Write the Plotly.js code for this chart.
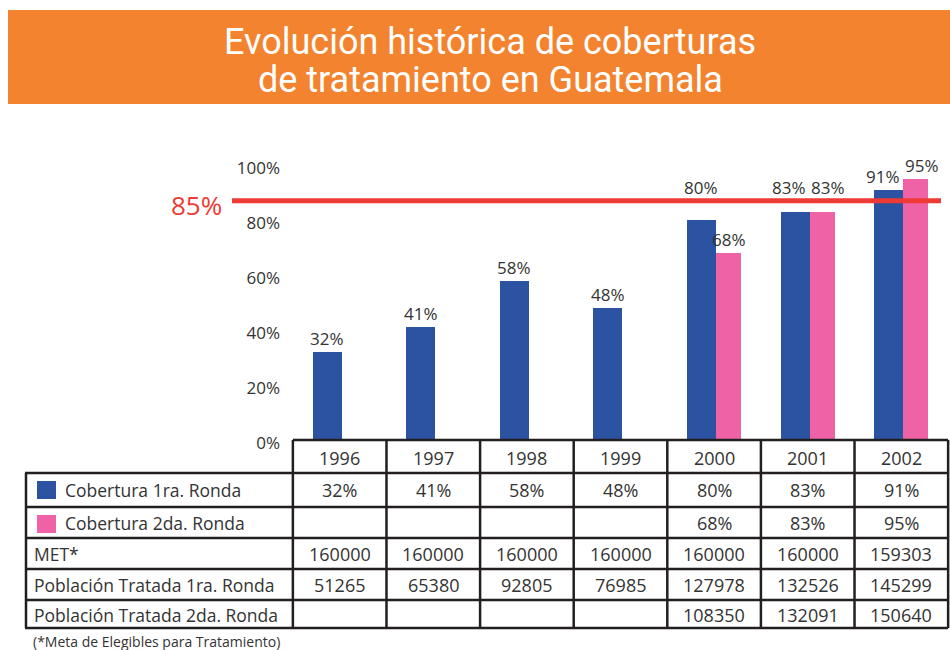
<!DOCTYPE html>
<html>
<head>
<meta charset="utf-8">
<script src="https://cdn.plot.ly/plotly-3.0.1.min.js"></script>
<style>html,body{margin:0;padding:0;background:#fff;}#chart{width:950px;height:650px;}</style>
</head>
<body>
<div id="chart"></div>
<script>
// ---- data ----
var years = ["1996", "1997", "1998", "1999", "2000", "2001", "2002"];
var cobertura1 = [0.32, 0.41, 0.58, 0.48, 0.80, 0.83, 0.91];
var cobertura2 = [null, null, null, null, 0.68, 0.83, 0.95];
var met = [160000, 160000, 160000, 160000, 160000, 160000, 159303];
var poblacion1 = [51265, 65380, 92805, 76985, 127978, 132526, 145299];
var poblacion2 = [null, null, null, null, 108350, 132091, 150640];
var metaLabel = "85%";
var metaLinePos = 0.87; // where the goal line is drawn in the picture
var rowLabels = ["Cobertura 1ra. Ronda", "Cobertura 2da. Ronda", "MET*", "Población Tratada 1ra. Ronda", "Población Tratada 2da. Ronda"];
var titleLines = ["Evolución histórica de coberturas", "de tratamiento en Guatemala"];
var footnote = "(*Meta de Elegibles para Tratamiento)";

// ---- styling / geometry ----
var W = 950, H = 650;
var mL = 291, mR = 0, mT = 165, mB = 210;
var plotH = H - mT - mB, plotW = W - mL - mR;
var blue = "#2C52A2", pink = "#EF62A6", red = "#EE3A35", orange = "#F3832E";
var txt = "#333333", lineCol = "#231F20";
var FONT = "Open Sans, Noto Sans, sans-serif";
function py(p) { return (H - mB - p) / plotH; }   // pixel y -> paper y
function px(p) { return (p - mL) / plotW; }       // pixel x -> paper x

var blueW = 0.31, blueOff = -0.29, pinkW = 0.27, pinkOff = 0.02;
var idx = years.map(function (_, i) { return i; });

var traces = [
  { type: "bar", x: idx, y: cobertura1, width: blueW, offset: blueOff,
    marker: { color: blue }, name: "Cobertura 1ra. Ronda", hoverinfo: "y", cliponaxis: false },
  { type: "bar", x: idx, y: cobertura2, width: pinkW, offset: pinkOff,
    marker: { color: pink }, name: "Cobertura 2da. Ronda", hoverinfo: "y", cliponaxis: false }
];

var shapes = [], annotations = [];

// banner
shapes.push({ type: "rect", xref: "paper", yref: "paper", x0: px(8), x1: px(952), y0: py(104), y1: py(10),
  fillcolor: orange, line: { width: 0 }, layer: "below" });
var titleY = [42, 80];
titleLines.forEach(function (t, i) {
  annotations.push({ xref: "paper", yref: "paper", x: px(490), y: py(titleY[i]), text: t, showarrow: false,
    xanchor: "center", yanchor: "middle", font: { family: "Roboto, sans-serif", size: 36, color: "#ffffff" } });
});

// goal line
shapes.push({ type: "line", xref: "paper", yref: "y", x0: px(232), x1: px(941), y0: metaLinePos, y1: metaLinePos,
  line: { color: red, width: 5 }, layer: "above" });
annotations.push({ xref: "paper", yref: "y", x: px(224), y: metaLinePos, yshift: -4, text: metaLabel, showarrow: false,
  xanchor: "right", yanchor: "middle", font: { family: FONT, size: 26, color: red } });

// bar value labels
function pct(v) { return Math.round(v * 100) + "%"; }
years.forEach(function (yr, i) {
  var b = cobertura1[i], p = cobertura2[i];
  var bY = (b > metaLinePos - 0.12 && b < metaLinePos) ? metaLinePos : b;
  var pY = (p != null && p > metaLinePos - 0.12 && p < metaLinePos) ? metaLinePos : p;
  var spread = (p != null && Math.abs(bY - pY) < 0.06) ? 6 : 0;
  annotations.push({ xref: "x", yref: "y", x: i + blueOff + blueW / 2, y: bY, text: pct(b), showarrow: false,
    yanchor: "bottom", yshift: 0, xshift: -spread, font: { family: FONT, size: 17, color: txt } });
  if (p != null) {
    annotations.push({ xref: "x", yref: "y", x: i + pinkOff + pinkW / 2, y: pY, text: pct(p), showarrow: false,
      yanchor: "bottom", yshift: 0, xshift: spread, font: { family: FONT, size: 17, color: txt } });
  }
});

// ---- table ----
var rowEdges = [440, 473, 507, 538, 569, 600, 628]; // header + 5 rows
var rowCenters = [458, 490, 523, 554, 585, 615];
var leftX = 26;
var lw = 2.5;
rowEdges.forEach(function (e) {
  shapes.push({ type: "line", xref: "x", yref: "paper", x0: -0.5, x1: years.length - 0.5, y0: py(e), y1: py(e),
    line: { color: lineCol, width: lw } });
});
rowEdges.slice(1).forEach(function (e) {
  shapes.push({ type: "line", xref: "paper", yref: "paper", x0: px(leftX - 1), x1: px(mL + 2), y0: py(e), y1: py(e),
    line: { color: lineCol, width: lw } });
});
for (var k = 0; k <= years.length; k++) {
  shapes.push({ type: "line", xref: "x", yref: "paper", x0: k - 0.5, x1: k - 0.5, y0: py(rowEdges[0]), y1: py(rowEdges[6]),
    line: { color: lineCol, width: lw } });
}
shapes.push({ type: "line", xref: "paper", yref: "paper", x0: px(leftX), x1: px(leftX), y0: py(rowEdges[1]), y1: py(rowEdges[6]),
  line: { color: lineCol, width: lw } });

// legend squares
shapes.push({ type: "rect", xref: "paper", yref: "paper", x0: px(37), x1: px(56), y0: py(499), y1: py(481),
  fillcolor: blue, line: { width: 0 } });
shapes.push({ type: "rect", xref: "paper", yref: "paper", x0: px(37), x1: px(56), y0: py(533), y1: py(515),
  fillcolor: pink, line: { width: 0 } });

// row labels
rowLabels.forEach(function (lab, r) {
  var xPix = r < 2 ? 63 : 32;
  annotations.push({ xref: "paper", yref: "paper", x: px(xPix), y: py(rowCenters[r + 1]), text: lab, showarrow: false,
    xanchor: "left", yanchor: "middle", font: { family: FONT, size: 17.5, color: txt } });
});

// cells
function fmtPct(v) { return v == null ? "" : pct(v); }
function fmtNum(v) { return v == null ? "" : String(v); }
var rows = [years.slice(), cobertura1.map(fmtPct), cobertura2.map(fmtPct), met.map(fmtNum), poblacion1.map(fmtNum), poblacion2.map(fmtNum)];
rows.forEach(function (row, r) {
  row.forEach(function (val, i) {
    if (val === "") return;
    annotations.push({ xref: "x", yref: "paper", x: i, y: py(rowCenters[r]), text: val, showarrow: false,
      xanchor: "center", yanchor: "middle", font: { family: FONT, size: 18, color: txt } });
  });
});

// footnote
annotations.push({ xref: "paper", yref: "paper", x: px(31), y: py(641), text: footnote, showarrow: false,
  xanchor: "left", yanchor: "middle", font: { family: FONT, size: 14, color: txt } });

var layout = {
  width: W, height: H,
  margin: { l: mL, r: mR, t: mT, b: mB, pad: 0 },
  paper_bgcolor: "#ffffff", plot_bgcolor: "rgba(0,0,0,0)",
  showlegend: false,
  xaxis: { type: "linear", range: [-0.52, 6.52], showticklabels: false, showgrid: false, zeroline: false,
    showline: false, ticks: "", fixedrange: true },
  yaxis: { range: [0, 1], tickvals: [0, 0.2, 0.4, 0.6, 0.8, 1.0], tickformat: ".0%", showgrid: false,
    zeroline: false, showline: false, ticks: "", ticklabelstandoff: 10, ticklabelshift: 3,
    tickfont: { family: FONT, size: 17, color: txt }, fixedrange: true },
  bargap: 0, shapes: shapes, annotations: annotations
};

Plotly.newPlot("chart", traces, layout, { displayModeBar: false, staticPlot: true });
</script>
</body>
</html>
